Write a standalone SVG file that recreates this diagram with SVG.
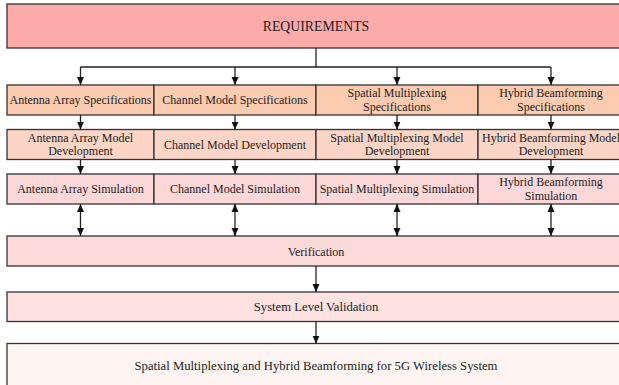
<svg xmlns="http://www.w3.org/2000/svg" width="619" height="385" viewBox="0 0 619 385">
<defs>
<style>
.box{stroke:#333;stroke-width:1.3}
.t{font-family:"Liberation Serif","DejaVu Serif",serif;font-size:12px;fill:#222;text-anchor:middle}
.big{font-size:12.7px}
.head{font-size:13.8px}
.c{fill:none;stroke:#222;stroke-width:1.3}
.req{fill:#FDAAAB}
.r1{fill:#FCCBB0}
.r2{fill:#FDD5C6}
.r3{fill:#FDD8D8}
.ver{fill:#FDDADA}
.slv{fill:#FEE2E2}
.fin{fill:#FEF5F3}
</style>
<marker id="ah" markerWidth="8" markerHeight="8" refX="8" refY="4" orient="auto" markerUnits="userSpaceOnUse">
<path d="M0,0.5 L8,4 L0,7.5 z" fill="#111"/>
</marker>
<marker id="as" markerWidth="8" markerHeight="8" refX="0" refY="4" orient="auto" markerUnits="userSpaceOnUse">
<path d="M8,0.5 L0,4 L8,7.5 z" fill="#111"/>
</marker>
</defs>
<rect width="619" height="385" fill="#fff"/>
<g id="requirements"><rect class="box req" x="7" y="4" width="620" height="44"/><text class="t head" x="316" y="30.5">REQUIREMENTS</text></g>
<g id="aa-spec"><rect class="box r1" x="7" y="85" width="147" height="30"/><text class="t" x="80.5" y="104">Antenna Array Specifications</text></g>
<g id="cm-spec"><rect class="box r1" x="154" y="85" width="162" height="30"/><text class="t" x="235" y="104">Channel Model Specifications</text></g>
<g id="sm-spec"><rect class="box r1" x="316" y="85" width="162" height="30"/><text class="t" x="397" y="97">Spatial Multiplexing</text><text class="t" x="397" y="110.5">Specifications</text></g>
<g id="hb-spec"><rect class="box r1" x="478" y="85" width="147" height="30"/><text class="t" x="551" y="97">Hybrid Beamforming</text><text class="t" x="551" y="110.5">Specifications</text></g>
<g id="aa-dev"><rect class="box r2" x="7" y="129.5" width="147" height="30"/><text class="t" x="80.5" y="141.5">Antenna Array Model</text><text class="t" x="80.5" y="155">Development</text></g>
<g id="cm-dev"><rect class="box r2" x="154" y="129.5" width="162" height="30"/><text class="t" x="235" y="148.5">Channel Model Development</text></g>
<g id="sm-dev"><rect class="box r2" x="316" y="129.5" width="162" height="30"/><text class="t" x="397" y="141.5">Spatial Multiplexing Model</text><text class="t" x="397" y="155">Development</text></g>
<g id="hb-dev"><rect class="box r2" x="478" y="129.5" width="147" height="30"/><text class="t" x="551" y="141.5">Hybrid Beamforming Model</text><text class="t" x="551" y="155">Development</text></g>
<g id="aa-sim"><rect class="box r3" x="7" y="174" width="147" height="30"/><text class="t" x="80.5" y="193">Antenna Array Simulation</text></g>
<g id="cm-sim"><rect class="box r3" x="154" y="174" width="162" height="30"/><text class="t" x="235" y="193">Channel Model Simulation</text></g>
<g id="sm-sim"><rect class="box r3" x="316" y="174" width="162" height="30"/><text class="t" x="397" y="193">Spatial Multiplexing Simulation</text></g>
<g id="hb-sim"><rect class="box r3" x="478" y="174" width="147" height="30"/><text class="t" x="551" y="186">Hybrid Beamforming</text><text class="t" x="551" y="199.5">Simulation</text></g>
<g id="verification"><rect class="box ver" x="7" y="236" width="620" height="30"/><text class="t" x="316" y="255.5">Verification</text></g>
<g id="slv"><rect class="box slv" x="7" y="292" width="620" height="29.5"/><text class="t big" x="316" y="311">System Level Validation</text></g>
<g id="final"><rect class="box fin" x="7" y="343.5" width="620" height="50"/><text class="t big" x="316" y="369.5">Spatial Multiplexing and Hybrid Beamforming for 5G Wireless System</text></g>
<g id="connectors">
<path class="c" d="M316,48 V67 M80.5,67 H551"/>
<path class="c" d="M80.5,67 V85" marker-end="url(#ah)"/>
<path class="c" d="M235,67 V85" marker-end="url(#ah)"/>
<path class="c" d="M397,67 V85" marker-end="url(#ah)"/>
<path class="c" d="M551,67 V85" marker-end="url(#ah)"/>
<path class="c" d="M80.5,115 V129.5" marker-end="url(#ah)"/>
<path class="c" d="M235,115 V129.5" marker-end="url(#ah)"/>
<path class="c" d="M397,115 V129.5" marker-end="url(#ah)"/>
<path class="c" d="M551,115 V129.5" marker-end="url(#ah)"/>
<path class="c" d="M80.5,159.5 V174" marker-end="url(#ah)"/>
<path class="c" d="M235,159.5 V174" marker-end="url(#ah)"/>
<path class="c" d="M397,159.5 V174" marker-end="url(#ah)"/>
<path class="c" d="M551,159.5 V174" marker-end="url(#ah)"/>
<path class="c" d="M80.5,204 V236" marker-start="url(#as)" marker-end="url(#ah)"/>
<path class="c" d="M235,204 V236" marker-start="url(#as)" marker-end="url(#ah)"/>
<path class="c" d="M397,204 V236" marker-start="url(#as)" marker-end="url(#ah)"/>
<path class="c" d="M551,204 V236" marker-start="url(#as)" marker-end="url(#ah)"/>
<path class="c" d="M316,266 V292" marker-end="url(#ah)"/>
<path class="c" d="M316,321.5 V343.5" marker-end="url(#ah)"/>
</g>
</svg>
